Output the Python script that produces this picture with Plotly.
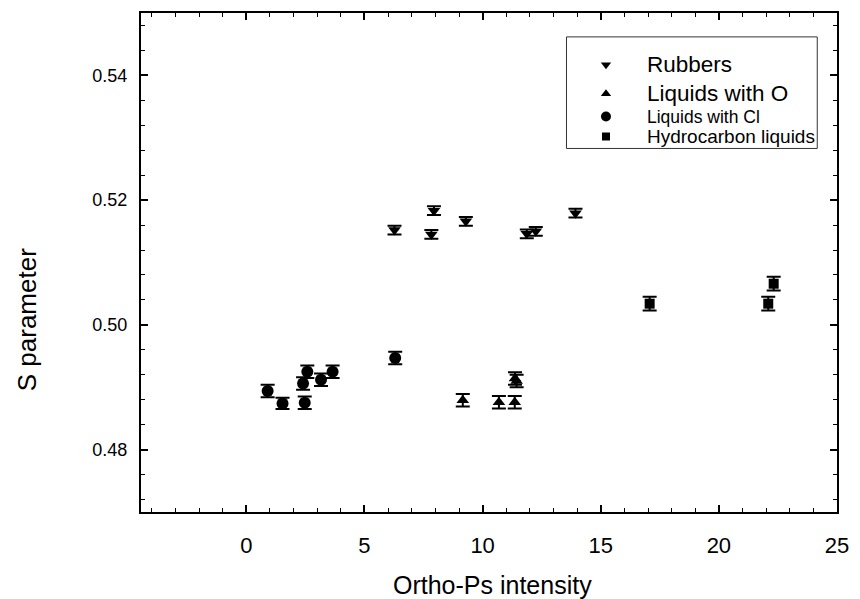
import plotly.graph_objects as go

# S parameter vs ortho-positronium intensity, four sample groups
rubbers_x = [6.27, 7.94, 7.83, 9.29, 11.87, 12.25, 13.93]
rubbers_y = [0.5152, 0.5183, 0.5145, 0.5166, 0.5146, 0.5150, 0.5179]
rubbers_err = [0.0007, 0.0007, 0.0007, 0.0007, 0.0007, 0.0007, 0.0007]

oxy_x = [9.16, 10.69, 11.36, 11.37, 11.44]
oxy_y = [0.4879, 0.4876, 0.4876, 0.4914, 0.4910]
oxy_err = [0.0010, 0.0010, 0.0010, 0.0010, 0.0010]

cl_x = [0.90, 1.53, 2.47, 2.40, 2.58, 3.16, 3.65, 6.30]
cl_y = [0.4894, 0.4874, 0.4875, 0.4906, 0.4925, 0.4912, 0.4925, 0.4947]
cl_err = [0.0010, 0.0009, 0.0010, 0.0010, 0.0010, 0.0010, 0.0010, 0.0010]

hc_x = [17.07, 22.32, 22.09]
hc_y = [0.5034, 0.5066, 0.5034]
hc_err = [0.0011, 0.0011, 0.0011]

series_names = ["Rubbers", "Liquids with O", "Liquids with Cl", "Hydrocarbon liquids"]
x_ticks = [0, 5, 10, 15, 20, 25]
y_ticks = [0.48, 0.50, 0.52, 0.54]

W, H = 860, 599
L, R, T, B = 141, 14, 11, 87
PW, PH = W - L - R, H - T - B


def px(x):
    return (x - L) / PW


def py(y):
    return (H - B - y) / PH


fig = go.Figure()

groups = [
    (rubbers_x, rubbers_y, rubbers_err, "triangle-down", 11),
    (oxy_x, oxy_y, oxy_err, "triangle-up", 11),
    (cl_x, cl_y, cl_err, "circle", 12),
    (hc_x, hc_y, hc_err, "square", 10),
]

for (xs, ys, es, sym, sz), name in zip(groups, series_names):
    fig.add_trace(go.Scatter(
        x=xs, y=ys, mode="markers", name=name, showlegend=False,
        marker=dict(symbol=sym, size=sz, color="black"),
        error_y=dict(type="data", array=es, visible=True,
                     color="black", thickness=2, width=7),
    ))

# legend box drawn by hand
leg_rows = [63, 92, 115, 135]
leg_sizes = [22.5, 22.5, 17.5, 19]
leg_msize = [9, 9, 10, 8]
for (xs, ys, es, sym, sz), name, ry, fs, ms in zip(groups, series_names, leg_rows, leg_sizes, leg_msize):
    fig.add_trace(go.Scatter(
        x=[px(612)], y=[py(ry)], mode="markers", showlegend=False,
        xaxis="x2", yaxis="y2", hoverinfo="skip",
        marker=dict(symbol=sym, size=ms, color="black"),
    ))
    fig.add_annotation(
        x=px(652), y=py(ry), xref="paper", yref="paper",
        text=name, showarrow=False, xanchor="left", yanchor="middle",
        font=dict(family="Liberation Sans, Arial, sans-serif", size=fs, color="black"),
    )

fig.add_shape(type="rect", xref="paper", yref="paper",
              x0=px(572), x1=px(826), y0=py(147), y1=py(35),
              line=dict(color="#333333", width=1), fillcolor="rgba(0,0,0,0)")

fig.add_annotation(x=px(497), y=py(585), xref="paper", yref="paper",
                   text="Ortho-Ps intensity", showarrow=False,
                   xanchor="center", yanchor="middle",
                   font=dict(family="Liberation Sans, Arial, sans-serif", size=25, color="black"))
fig.add_annotation(x=px(25), y=py(319), xref="paper", yref="paper",
                   text="S parameter", showarrow=False, textangle=-90,
                   xanchor="center", yanchor="middle",
                   font=dict(family="Liberation Sans, Arial, sans-serif", size=26, color="black"))

axis_common = dict(
    showline=True, linecolor="black", linewidth=2, mirror="allticks",
    ticks="inside", tickcolor="black", tickwidth=1.5,
    showgrid=False, zeroline=False,
)

fig.update_layout(
    width=W, height=H,
    margin=dict(l=L, r=R, t=T, b=B),
    paper_bgcolor="white", plot_bgcolor="white",
    font=dict(family="Liberation Sans, Arial, sans-serif", color="black"),
    xaxis=dict(
        range=[-4.46, 25], tickvals=x_ticks, ticklen=7,
        tickfont=dict(size=22), ticklabelstandoff=13,
        minor=dict(dtick=1, tick0=0, ticks="inside", ticklen=4,
                   tickcolor="black", tickwidth=1.2),
        **axis_common,
    ),
    yaxis=dict(
        range=[0.47, 0.55], tickvals=y_ticks, tickformat=".2f", ticklen=7,
        tickfont=dict(size=18), ticklabelstandoff=8,
        minor=dict(dtick=0.004, tick0=0.48, ticks="inside", ticklen=4,
                   tickcolor="black", tickwidth=1.2),
        **axis_common,
    ),
    xaxis2=dict(range=[0, 1], domain=[0, 1], overlaying="x", visible=False, fixedrange=True),
    yaxis2=dict(range=[0, 1], domain=[0, 1], overlaying="y", visible=False, fixedrange=True),
)

fig.write_html("out.html")
